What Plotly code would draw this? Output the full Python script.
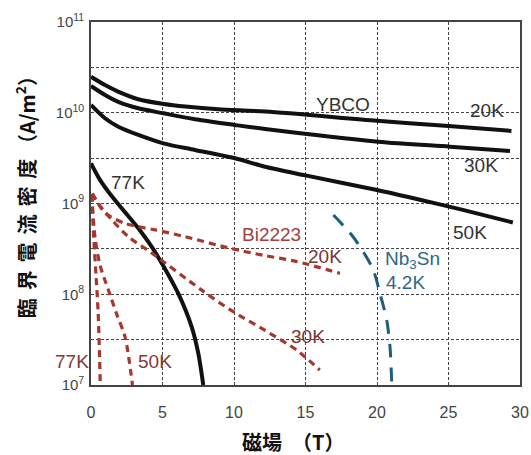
import numpy as np
import plotly.graph_objects as go

# ---- data (field in T, critical current density in A/m^2) ----
ybco20_x = [0, 0.98, 1.9, 3.3, 5.1, 6.6, 8.9, 12.2, 20, 25, 29.4]
ybco20_y = [2.49e10, 2.02e10, 1.71e10, 1.41e10, 1.25e10, 1.17e10, 1.09e10, 1.03e10, 8.17e9, 7.14e9, 6.31e9]

ybco30_x = [0, 0.98, 1.91, 3.31, 5.06, 7.27, 10.07, 12.17, 20.07, 25.1, 29.3]
ybco30_y = [1.97e10, 1.57e10, 1.32e10, 1.12e10, 9.86e9, 8.47e9, 7.33e9, 6.62e9, 4.80e9, 4.23e9, 3.80e9]

ybco50_x = [0, 0.98, 1.91, 3.31, 5.06, 7.27, 10.07, 12.17, 15, 20, 23, 26, 29.5]
ybco50_y = [1.22e10, 8.69e9, 7.01e9, 5.69e9, 4.60e9, 3.89e9, 3.15e9, 2.54e9, 2.04e9, 1.41e9, 1.10e9, 8.51e8, 6.17e8]

ybco77_x = [0, 0.63, 1.21, 2.15, 3.31, 4.24, 5.1, 6.1, 7.04, 7.5, 7.85]
ybco77_y = [2.77e9, 1.82e9, 1.35e9, 8.85e8, 5.33e8, 3.34e8, 2.0e8, 1.02e8, 4.37e7, 2.24e7, 1.0e7]

bi20_x = [0.09, 0.98, 2.38, 3.31, 4.48, 6.57, 9.72, 12.05, 14.38, 17.41]
bi20_y = [1.29e9, 7.9e8, 6.03e8, 5.55e8, 5.13e8, 4.31e8, 3.21e8, 2.69e8, 2.29e8, 1.70e8]

bi30_x = [0.09, 0.51, 1.45, 2.61, 4.24, 7.74, 9.72, 12.5, 14.38, 16.0]
bi30_y = [1.29e9, 1.0e9, 6.61e8, 4.31e8, 2.85e8, 1.11e8, 6.76e7, 3.72e7, 2.43e7, 1.46e7]

bi50_x = [0.05, 0.28, 0.63, 1.21, 1.82, 2.38, 2.9]
bi50_y = [1.26e9, 4.27e8, 2.09e8, 1.12e8, 5.89e7, 3.39e7, 1.0e7]

bi77_x = [0.05, 0.2, 0.35, 0.5, 0.65]
bi77_y = [1.26e9, 4.0e8, 1.6e8, 6.3e7, 1.0e7]

nb3sn_x = [16.95, 18.23, 19.04, 19.74, 20.21, 20.68, 20.91, 21.03]
nb3sn_y = [7.46e8, 4.50e8, 2.94e8, 1.85e8, 1.02e8, 5.20e7, 2.63e7, 1.05e7]

x_ticks = [0, 5, 10, 15, 20, 25, 30]
y_decades = [7, 8, 9, 10, 11]

BLACK = "#111111"
BI = "#a5372f"
NB = "#1d5e78"

fig = go.Figure()

def add_line(x, y, color, width, dash=None):
    fig.add_trace(go.Scatter(
        x=x, y=y, mode="lines",
        line=dict(color=color, width=width, dash=dash, shape="spline", smoothing=0.8),
        showlegend=False, hoverinfo="skip"))

for xs, ys in [(ybco20_x, ybco20_y), (ybco30_x, ybco30_y), (ybco50_x, ybco50_y), (ybco77_x, ybco77_y)]:
    add_line(xs, ys, BLACK, 4)
for xs, ys in [(bi20_x, bi20_y), (bi30_x, bi30_y), (bi50_x, bi50_y), (bi77_x, bi77_y)]:
    add_line(xs, ys, BI, 3.2, "7px,5px")
add_line(nb3sn_x, nb3sn_y, NB, 3, "14px,10px")

# y ticks at each decade with grid lines at half decades
tickvals, ticktext = [], []
for d in y_decades:
    tickvals.append(10 ** d)
    ticktext.append(f"10<sup>{d}</sup>")
    if d < y_decades[-1]:
        tickvals.append(10 ** (d + 0.5))
        ticktext.append("")

FONT = "Liberation Sans, Arial, sans-serif"
CJK = "Noto Sans CJK JP, sans-serif"

labels = [
    ("YBCO", 17.6, 10.096, "#333333", "center"),
    ("20K", 27.7, 10.03, "#333333", "center"),
    ("30K", 27.3, 9.424, "#333333", "center"),
    ("50K", 26.5, 8.675, "#333333", "center"),
    ("77K", 2.59, 9.226, "#333333", "center"),
    ("Bi2223", 12.64, 8.653, "#a04040", "center"),
    ("20K", 16.36, 8.414, "#7a3434", "center"),
    ("30K", 15.17, 7.532, "#7a3434", "center"),
    ("50K", 4.48, 7.257, "#843838", "center"),
    ("Nb<sub>3</sub>Sn", 20.42, 8.377, "#2b6985", "left"),
    ("4.2K", 20.5, 8.135, "#2b6985", "left"),
]
annotations = []
for text, x, ly, col, anc in labels:
    annotations.append(dict(text=text, x=x, y=ly, xref="x", yref="y", showarrow=False,
                            xanchor=anc, yanchor="middle",
                            font=dict(family=FONT, size=19, color=col)))
# label left of the axis (outside x range -> paper x)
annotations.append(dict(text="77K", x=-0.045, y=7.257, xref="paper", yref="y", showarrow=False,
                        xanchor="center", yanchor="middle",
                        font=dict(family=FONT, size=19, color="#843838")))

sp = "\u2004\u200a"
ytitle = sp.join("臨界電流密度") + " （A/m<sup>2</sup>）"
annotations.append(dict(text="<b>" + ytitle + "</b>", xref="paper", yref="paper",
                        x=-0.153, y=0.532, textangle=-90, showarrow=False,
                        xanchor="center", yanchor="middle",
                        font=dict(family=CJK, size=20, color="#111111")))
annotations.append(dict(text="<b>磁場\u2002（T）</b>", xref="paper", yref="paper",
                        x=0.471, y=-0.157, showarrow=False,
                        xanchor="center", yanchor="middle",
                        font=dict(family=CJK, size=20, color="#111111")))

fig.update_layout(
    width=531, height=455,
    margin=dict(l=91, r=11, t=22, b=70),
    paper_bgcolor="white", plot_bgcolor="white",
    annotations=annotations,
    font=dict(family=FONT),
)
fig.update_xaxes(
    range=[0, 30], tickvals=x_ticks, ticks="outside", ticklen=12, tickcolor="rgba(0,0,0,0)",
    showgrid=True, gridcolor="#444444", griddash="3px,2px", gridwidth=1,
    showline=True, linecolor="#444444", linewidth=1.6, mirror=True, zeroline=False,
    automargin=False,
    tickfont=dict(size=16, color="#444444", family=FONT),
)
fig.update_yaxes(
    type="log", range=[7, 11], tickvals=tickvals, ticktext=ticktext,
    ticks="outside", ticklen=2, tickcolor="rgba(0,0,0,0)",
    showgrid=True, gridcolor="#444444", griddash="3px,2px", gridwidth=1,
    showline=True, linecolor="#444444", linewidth=1.6, mirror=True, zeroline=False,
    automargin=False,
    tickfont=dict(size=15, color="#444444", family=FONT),
)

fig.write_html("out.html")
